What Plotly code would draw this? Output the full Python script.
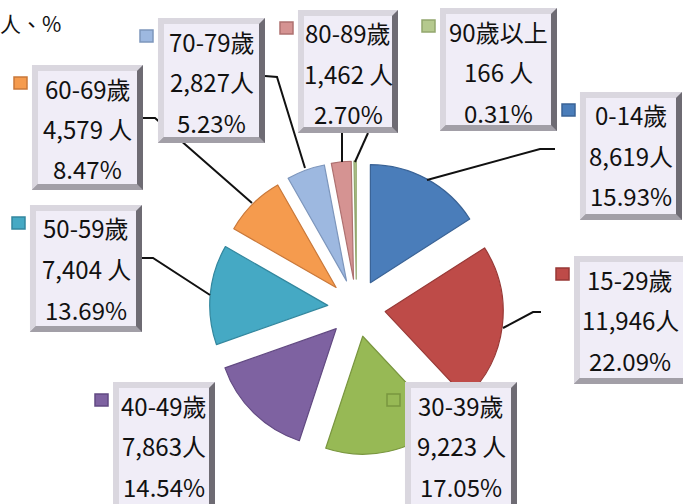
import plotly.graph_objects as go

# ---------------- data ----------------
categories = ["0-14歲", "15-29歲", "30-39歲", "40-49歲", "50-59歲",
              "60-69歲", "70-79歲", "80-89歲", "90歲以上"]
counts = [8619, 11946, 9223, 7863, 7404, 4579, 2827, 1462, 166]
count_sep = ["", "", " ", "", " ", " ", "", " ", " "]   # space before 人 as printed
percents = [15.93, 22.09, 17.05, 14.54, 13.69, 8.47, 5.23, 2.70, 0.31]
unit_note = "人、%"

# ---------------- styles / layout ----------------
W, H = 683, 504
colors = ["#4A7DBA", "#BE4B48", "#97B955", "#7E62A1", "#45A9C4",
          "#F59B4E", "#9DB8E0", "#D59392", "#B5C98E"]
edge_colors = ["#3A6396", "#983936", "#79963F", "#624A82", "#33879E",
               "#C9783A", "#7D96BC", "#AE7170", "#92A76E"]

# label boxes in pixels (x0, y0, x1, y1), same order as categories
boxes = [(580, 92, 682, 220), (574, 256, 692, 384), (405, 382, 517, 512),
         (113, 382, 215, 512), (30, 205, 142, 332), (32, 65, 143, 190),
         (158, 18, 265, 143), (298, 10, 398, 133), (440, 8, 557, 131)]
# leader lines (pixel polylines)
leaders = [
    [(555, 149), (540, 149), (427, 180)],
    [(541, 312), (533, 312), (503, 328)],
    None,
    None,
    [(142, 258), (153, 258), (210, 295)],
    [(143, 118), (155, 118), (252, 203)],
    [(265, 76), (277, 77), (305, 168)],
    [(342, 133), (342, 162)],
    [(368, 133), (355, 162)],
]

PULL = 0.245
CX, CY, R = 356.5, 308.0, 118.0
half = R * (1 + PULL)


def px(x):
    return x / W


def py(y):
    return 1 - y / H


fig = go.Figure()
fig.add_trace(go.Pie(
    values=counts,
    labels=categories,
    sort=False,
    direction="clockwise",
    rotation=0,
    pull=[PULL] * len(counts),
    marker=dict(colors=colors, line=dict(color=edge_colors, width=1.2)),
    textinfo="none",
    hoverinfo="label+value+percent",
    showlegend=False,
    domain=dict(x=[px(CX - half), px(CX + half)],
                y=[py(CY + half), py(CY - half)]),
))

shapes = []
annotations = []

# leader lines first (drawn under the boxes)
for pts in leaders:
    if not pts:
        continue
    path = "M " + " L ".join(f"{px(x):.5f},{py(y):.5f}" for x, y in pts)
    shapes.append(dict(type="path", xref="paper", yref="paper", path=path,
                       line=dict(color="#111111", width=2)))


def poly(points, fill):
    path = "M " + " L ".join(f"{px(x):.5f},{py(y):.5f}" for x, y in points) + " Z"
    return dict(type="path", xref="paper", yref="paper", path=path,
                fillcolor=fill, line=dict(width=0))


b = 6
for i, (x0, y0, x1, y1) in enumerate(boxes):
    # bevelled box
    shapes.append(poly([(x0, y0), (x1, y0), (x1, y1), (x0, y1)], "#6E6B73"))
    shapes.append(poly([(x0, y1), (x0 + b, y1 - b), (x1 - b, y1 - b), (x1, y1)], "#A29FA7"))
    shapes.append(poly([(x0, y0), (x1, y0), (x1 - b, y0 + b), (x0 + b, y0 + b),
                        (x0 + b, y1 - b), (x0, y1)], "#DAD7DF"))
    shapes.append(poly([(x0 + b, y0 + b), (x1 - b, y0 + b), (x1 - b, y1 - b),
                        (x0 + b, y1 - b)], "#F0EDF7"))
    # legend key square
    mx0, my0 = x0 - 18, y0 + 12
    shapes.append(dict(type="rect", xref="paper", yref="paper",
                       x0=px(mx0), x1=px(mx0 + 13), y0=py(my0 + 12), y1=py(my0),
                       fillcolor=colors[i], line=dict(color=edge_colors[i], width=1.5)))
    # text lines
    cx = (x0 + x1) / 2
    if x1 > W:
        cx = (x0 + 682) / 2 + 2
    lines = [categories[i], f"{counts[i]:,}{count_sep[i]}人", f"{percents[i]:.2f}%"]
    for k, t in enumerate(lines):
        annotations.append(dict(
            x=px(cx), y=py(y0 + 23 + 40.5 * k), xref="paper", yref="paper",
            text=t, showarrow=False, xanchor="center", yanchor="middle",
            font=dict(family="Noto Sans CJK TC", size=24, color="#111111")))

annotations.append(dict(
    x=px(63), y=py(23), xref="paper", yref="paper", text=unit_note,
    showarrow=False, xanchor="right", yanchor="middle",
    font=dict(family="Noto Sans CJK TC", size=21, color="#111111")))

fig.update_layout(
    width=W, height=H,
    margin=dict(l=0, r=0, t=0, b=0),
    paper_bgcolor="white",
    plot_bgcolor="white",
    shapes=shapes,
    annotations=annotations,
    showlegend=False,
)

fig.write_html("out.html",
               config={"displayModeBar": False},
               post_script="document.body.style.margin='0';document.body.style.overflow='hidden';")
